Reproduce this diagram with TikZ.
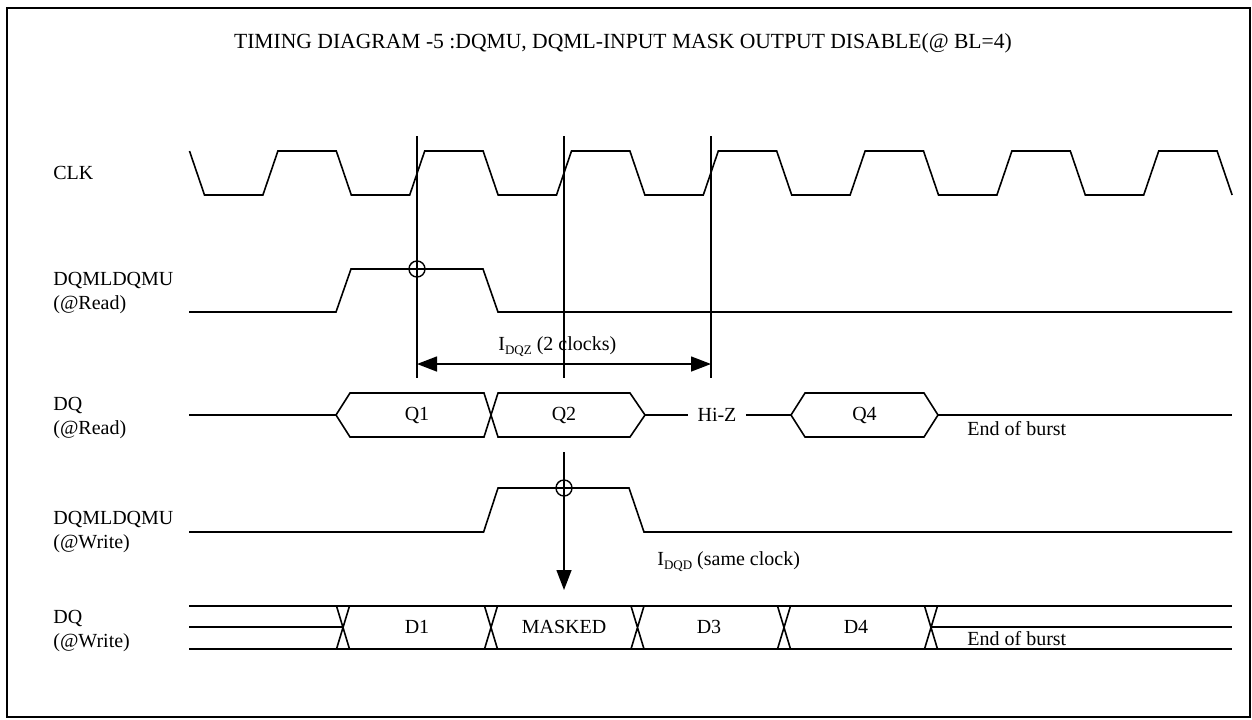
\documentclass[tikz,border=0pt]{standalone}
\usepackage{fontspec}
\setmainfont{Liberation Serif}
\usetikzlibrary{arrows.meta,positioning}
\tikzset{sig/.style={line width=0.8pt}}
\tikzset{mark line/.style={line width=0.7pt}}
\tikzset{lbl/.style={font=\fontsize{10}{12}\selectfont,inner sep=0pt}}
\tikzset{ring/.style={circle,draw,line width=0.7pt,minimum size=8pt,inner sep=0pt}}
\tikzset{>/.tip={Triangle[length=10pt,width=7.5pt]}}
\newcommand{\lowsub}[1]{\raisebox{-2pt}{\fontsize{6.5}{7}\selectfont #1}}

\begin{document}
\begin{tikzpicture}[x=0.5pt,y=-0.5pt]
        \useasboundingbox (0,0) rectangle (1252,719);
        \draw[line width=0.7pt] (7,8) rectangle (1250,717);
        \node[font=\fontsize{10.8}{13}\selectfont] (title) at (623,43)
          {TIMING DIAGRAM -5 :DQMU, DQML-INPUT MASK OUTPUT DISABLE(@ BL=4)};
        \node[lbl,anchor=base west] (clk) at (53,179.5) {CLK};
        \node[lbl,anchor=base west] (rdqm) at (53,285) {DQMLDQMU};
        \node[lbl,below=12pt of rdqm.base west,anchor=base west] (rdqmb) {(@Read)};
        \node[lbl,anchor=base west] (rdq) at (53,410) {DQ};
        \node[lbl,below=12pt of rdq.base west,anchor=base west] (rdqb) {(@Read)};
        \node[lbl,anchor=base west] (wdqm) at (53,524.5) {DQMLDQMU};
        \node[lbl,below=12pt of wdqm.base west,anchor=base west] (wdqmb) {(@Write)};
        \node[lbl,anchor=base west] (wdq) at (53,623.3) {DQ};
        \node[lbl,below=12pt of wdq.base west,anchor=base west] (wdqb) {(@Write)};
        \draw[sig] (189.5,151) -- ++(15,44) \foreach \k in {1,...,7}{
          -- ++(58.4,0) -- ++(15,-44) -- ++(58.4,0) -- ++(15,44)};
        \coordinate (ta) at (417,136);
        \coordinate (tb) at (564,136);
        \coordinate (tc) at (711,136);
        \coordinate (ba) at (417,378);
        \coordinate (bb) at (564,378);
        \coordinate (bc) at (711,378);
        \draw[mark line] (ta) -- (ba) (tb) -- (bb) (tc) -- (bc);
        \draw[sig] (189,312) -- (336,312) -- (351,269) -- (483,269) -- (498,312) -- (1232,312);
        \node[ring] (rmask) at (417,269) {};
        \coordinate (za) at (417,364);
        \coordinate (zb) at (711,364);
        \draw[mark line,<->] (za) -- (zb);
        \node[lbl,anchor=base west] (tdqz) at (498,350) {I\lowsub{DQZ} (2 clocks)};
        \draw[sig] (189,415) -- (336,415);
        \draw[sig] (336,415) -- (350,393) -- (484,393) -- (498,437) -- (630,437) -- (645,415)
          -- (630,393) -- (498,393) -- (484,437) -- (350,437) -- cycle;
        \node[lbl] (q1) at (417,415) {Q1};
        \node[lbl] (q2) at (564,415) {Q2};
        \node[lbl,inner xsep=4.5pt] (hiz) at (717,415) {Hi-Z};
        \draw[sig] (645,415) -- (hiz) -- (791,415);
        \draw[sig] (791,415) -- (805,393) -- (924,393) -- (938,415) -- (924,437) -- (805,437) -- cycle;
        \node[lbl] (q4) at (864.5,415) {Q4};
        \draw[sig] (938,415) -- (1232,415);
        \node[lbl,anchor=base west] (eobr) at (967,435.5) {End of burst};
        \draw[sig] (189,532) -- (483.6,532) -- (498,488) -- (629,488) -- (644,532) -- (1232,532);
        \node[ring] (wmask) at (564,488) {};
        \coordinate (da) at (564,452);
        \coordinate (db) at (564,590);
        \draw[mark line,->] (da) -- (db);
        \node[lbl,anchor=base west] (tdqd) at (657,565) {I\lowsub{DQD} (same clock)};
        \draw[sig] (189,606) -- (1232,606) (189,649) -- (1232,649);
        \draw[sig] (189,627) -- (343,627) (931,627) -- (1232,627);
        \foreach \c in {343,491,637.5,784,931}
          \draw[sig] (\c-6.5,606) -- (\c+6.5,649) (\c-6.5,649) -- (\c+6.5,606);
        \node[lbl] (d1) at (417,627) {D1};
        \node[lbl] (msk) at (564,627) {MASKED};
        \node[lbl] (d3) at (709,627) {D3};
        \node[lbl] (d4) at (856,627) {D4};
        \node[lbl,anchor=base west] (eobw) at (967,645.5) {End of burst};
      \end{tikzpicture}
\end{document}
